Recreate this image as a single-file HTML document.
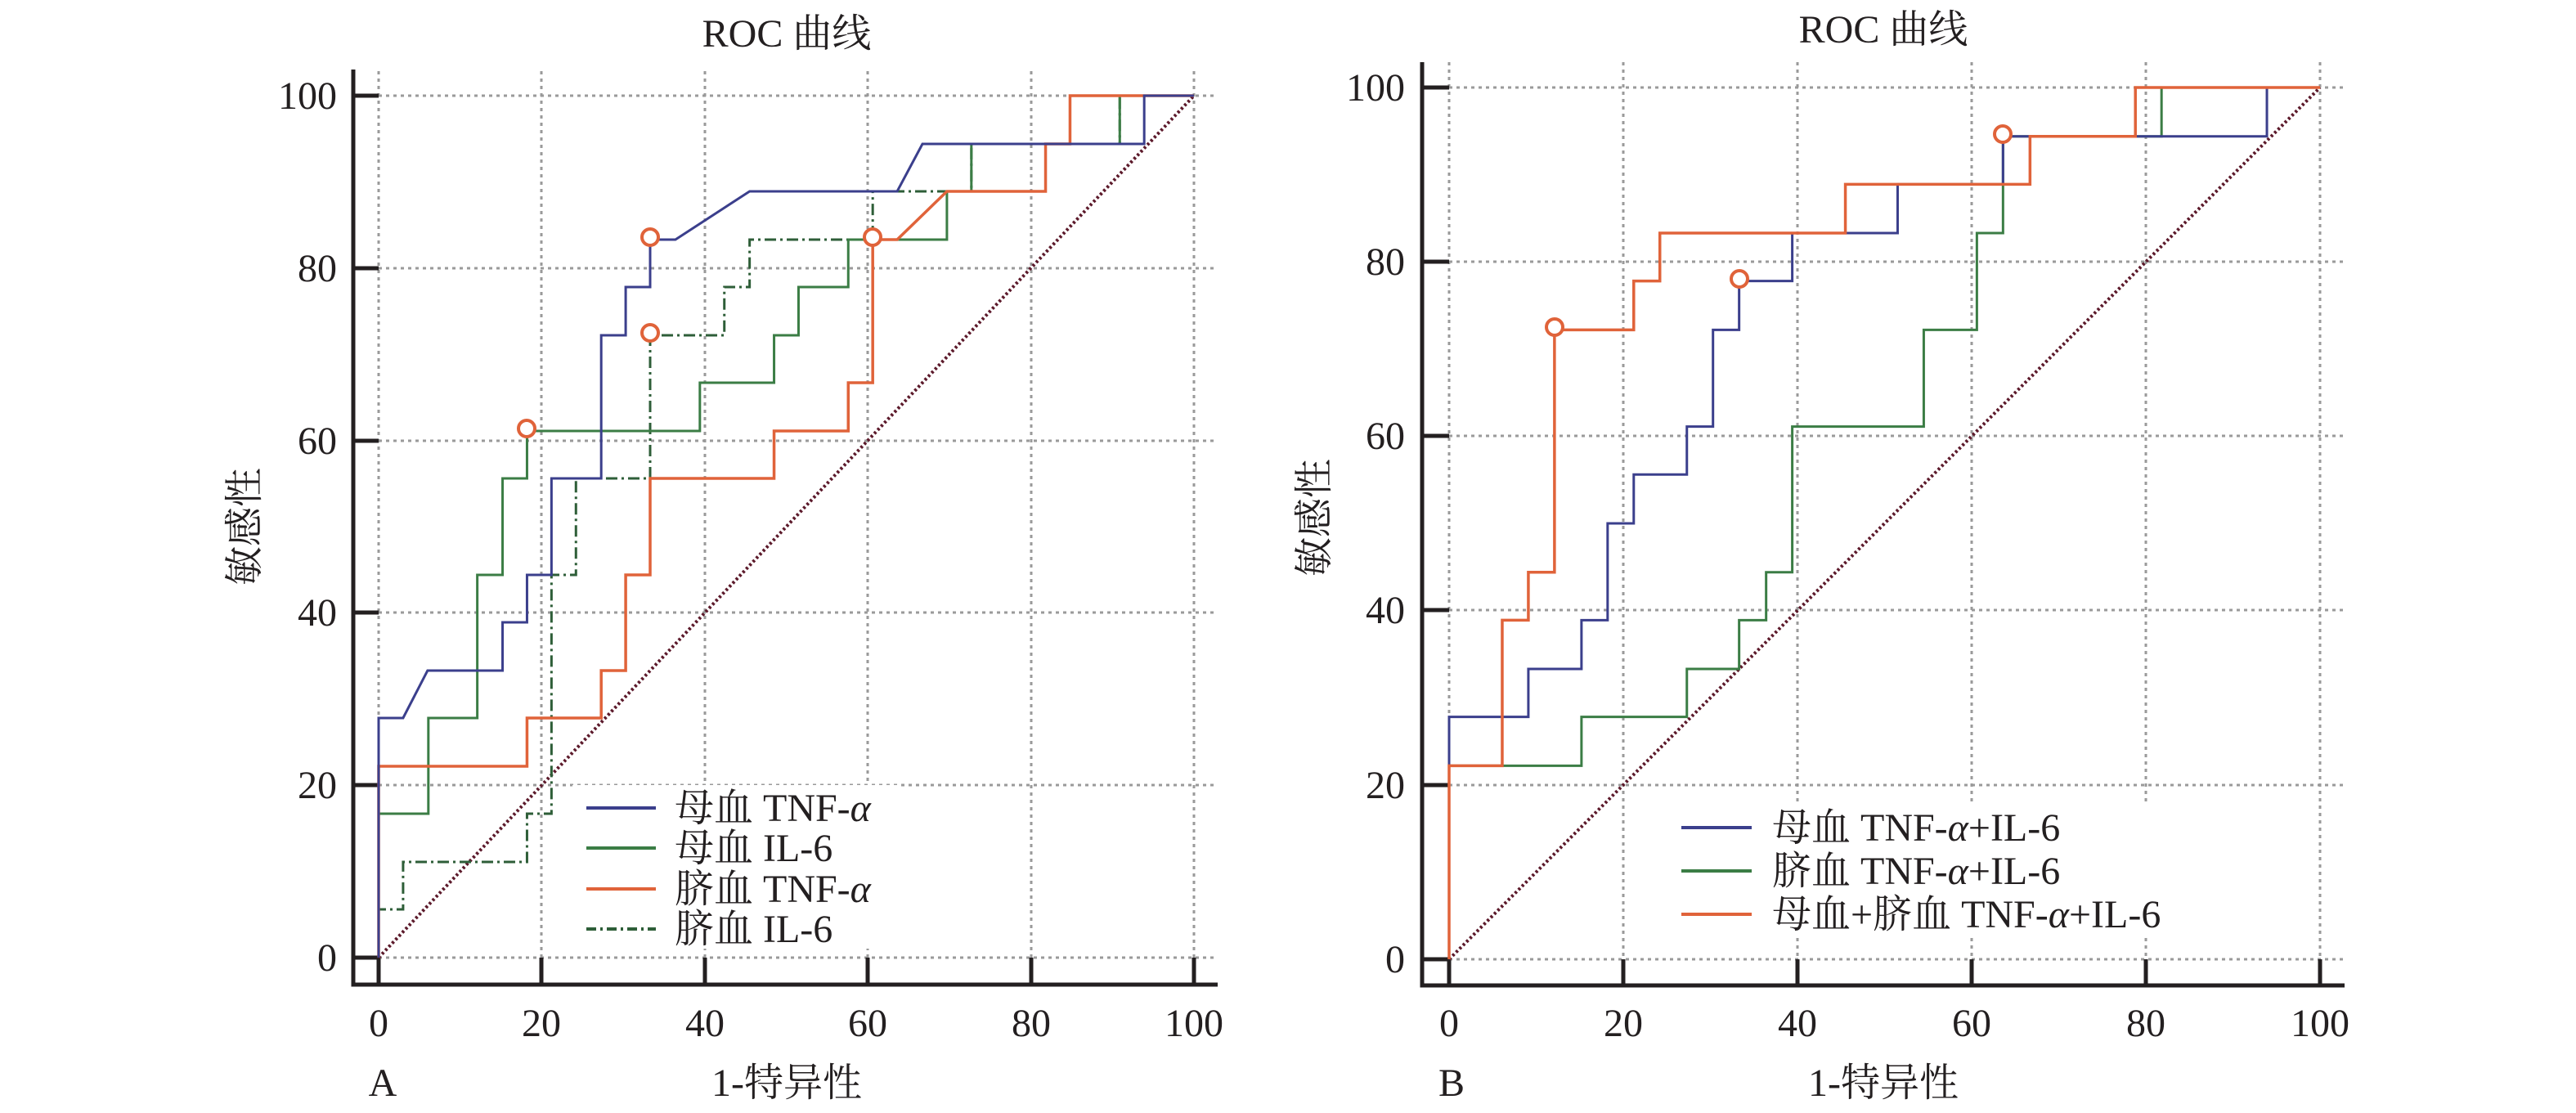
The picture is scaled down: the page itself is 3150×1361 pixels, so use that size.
<!DOCTYPE html>
<html><head><meta charset="utf-8"><style>
html,body{margin:0;padding:0;background:#fff;}
svg{display:block;}
text{font-family:"Liberation Serif","Noto Serif CJK SC",serif;fill:#231f20;}
</style></head><body>
<svg width="3150" height="1361" viewBox="0 0 3150 1361" xmlns="http://www.w3.org/2000/svg">
<!-- ============ Chart A ============ -->
<g stroke="#9a9a9a" stroke-width="3" stroke-dasharray="4,5" fill="none">
  <path d="M463 87V1171M662 87V1171M862 87V1171M1061 87V1171M1261 87V1171M1460 87V1171"/>
  <path d="M463 117H1489M463 328H1489M463 539H1489M463 749H1489M463 960H1489M463 1171H1489"/>
</g>
<rect x="700" y="960" width="400" height="200" fill="#fff"/>
<g stroke="#231f20" stroke-width="5" fill="none">
  <path d="M432 85V1204H1489"/>
  <path d="M432 117H463M432 328H463M432 539H463M432 749H463M432 960H463M432 1171H463"/>
  <path d="M463 1204V1171M662 1204V1171M862 1204V1171M1061 1204V1171M1261 1204V1171M1460 1204V1171"/>
</g>
<g transform="translate(463,1171) scale(9.97,-10.54)" fill="none">
  <path d="M0 0L100 100" stroke="#5c1a2b" stroke-width="4" stroke-dasharray="3,3" vector-effect="non-scaling-stroke"/>
  <polyline vector-effect="non-scaling-stroke" stroke="#2e5e38" stroke-width="3" stroke-dasharray="14,5,3,5" points="0,0 0,5.6 3,5.6 3,11.1 18.2,11.1 18.2,16.7 21.2,16.7 21.2,44.4 24.2,44.4 24.2,55.6 33.3,55.6 33.3,72.2 42.4,72.2 42.4,77.8 45.5,77.8 45.5,83.3 60.6,83.3 60.6,88.9 72.7,88.9 72.7,94.4 90.9,94.4 90.9,100 100,100"/>
  <polyline vector-effect="non-scaling-stroke" stroke="#3b7d45" stroke-width="3" points="0,0 0,16.7 6.1,16.7 6.1,27.8 12.1,27.8 12.1,44.4 15.2,44.4 15.2,55.6 18.2,55.6 18.2,61.1 39.4,61.1 39.4,66.7 48.5,66.7 48.5,72.2 51.5,72.2 51.5,77.8 57.6,77.8 57.6,83.3 69.7,83.3 69.7,88.9 72.7,88.9 72.7,94.4 90.9,94.4 90.9,100 100,100"/>
  <polyline vector-effect="non-scaling-stroke" stroke="#e0633a" stroke-width="3.5" points="0,0 0,22.2 18.2,22.2 18.2,27.8 27.3,27.8 27.3,33.3 30.3,33.3 30.3,44.4 33.3,44.4 33.3,55.6 48.5,55.6 48.5,61.1 57.6,61.1 57.6,66.7 60.6,66.7 60.6,83.3 63.6,83.3 69.7,88.9 81.8,88.9 81.8,94.4 84.8,94.4 84.8,100 100,100"/>
  <polyline vector-effect="non-scaling-stroke" stroke="#3b3f8c" stroke-width="3" points="0,0 0,27.8 3,27.8 6,33.3 15.2,33.3 15.2,38.9 18.2,38.9 18.2,44.4 21.2,44.4 21.2,55.6 27.3,55.6 27.3,72.2 30.3,72.2 30.3,77.8 33.3,77.8 33.3,83.3 36.4,83.3 45.5,88.9 63.6,88.9 66.7,94.4 93.9,94.4 93.9,100 100,100"/>
</g>
<g fill="#fff" stroke="#e0633a" stroke-width="4">
  <circle cx="795" cy="290" r="10"/><circle cx="795" cy="407" r="10"/><circle cx="644" cy="524" r="10"/><circle cx="1067" cy="290" r="10"/>
</g>
<g stroke-width="4" fill="none">
  <path d="M717 988H802" stroke="#3b3f8c"/>
  <path d="M717 1037H802" stroke="#3b7d45"/>
  <path d="M717 1087H802" stroke="#e0633a"/>
  <path d="M717 1136H802" stroke="#2e5e38" stroke-dasharray="12,5,3,5"/>
</g>
<g font-size="48">
  <text x="825" y="1004">母血 TNF-<tspan font-style="italic">α</tspan></text>
  <text x="825" y="1053">母血 IL-6</text>
  <text x="825" y="1103">脐血 TNF-<tspan font-style="italic">α</tspan></text>
  <text x="825" y="1152">脐血 IL-6</text>
</g>
<g font-size="48" text-anchor="end">
  <text x="412" y="133">100</text><text x="412" y="344">80</text><text x="412" y="555">60</text>
  <text x="412" y="765">40</text><text x="412" y="976">20</text><text x="412" y="1187">0</text>
</g>
<g font-size="48" text-anchor="middle">
  <text x="463" y="1267">0</text><text x="662" y="1267">20</text><text x="862" y="1267">40</text>
  <text x="1061" y="1267">60</text><text x="1261" y="1267">80</text><text x="1460" y="1267">100</text>
  <text x="962" y="57">ROC 曲线</text>
  <text x="962" y="1340">1-特异性</text>
  <text x="468" y="1340">A</text>
  <text transform="translate(315,644) rotate(-90)">敏感性</text>
</g>

<!-- ============ Chart B ============ -->
<g stroke="#9a9a9a" stroke-width="3" stroke-dasharray="4,5" fill="none">
  <path d="M1772 76V1173M1985 76V1173M2198 76V1173M2411 76V1173M2624 76V1173M2837 76V1173"/>
  <path d="M1772 107H2867M1772 320H2867M1772 533H2867M1772 746H2867M1772 960H2867M1772 1173H2867"/>
</g>
<rect x="2045" y="982" width="620" height="160" fill="#fff"/>
<g stroke="#231f20" stroke-width="5" fill="none">
  <path d="M1739 76V1205H2867"/>
  <path d="M1739 107H1772M1739 320H1772M1739 533H1772M1739 746H1772M1739 960H1772M1739 1173H1772"/>
  <path d="M1772 1205V1173M1985 1205V1173M2198 1205V1173M2411 1205V1173M2624 1205V1173M2837 1205V1173"/>
</g>
<g transform="translate(1772,1173) scale(10.65,-10.66)" fill="none">
  <path d="M0 0L100 100" stroke="#5c1a2b" stroke-width="4" stroke-dasharray="3,3" vector-effect="non-scaling-stroke"/>
  <polyline vector-effect="non-scaling-stroke" stroke="#3b7d45" stroke-width="3" points="0,0 0,22.2 15.2,22.2 15.2,27.8 27.3,27.8 27.3,33.3 33.3,33.3 33.3,38.9 36.4,38.9 36.4,44.4 39.4,44.4 39.4,61.1 54.5,61.1 54.5,72.2 60.6,72.2 60.6,83.3 63.6,83.3 63.6,94.4 81.8,94.4 81.8,100 100,100"/>
  <polyline vector-effect="non-scaling-stroke" stroke="#3b3f8c" stroke-width="3" points="0,0 0,27.8 9.1,27.8 9.1,33.3 15.2,33.3 15.2,38.9 18.2,38.9 18.2,50 21.2,50 21.2,55.6 27.3,55.6 27.3,61.1 30.3,61.1 30.3,72.2 33.3,72.2 33.3,77.8 39.4,77.8 39.4,83.3 51.5,83.3 51.5,88.9 63.6,88.9 63.6,94.4 93.9,94.4 93.9,100 100,100"/>
  <polyline vector-effect="non-scaling-stroke" stroke="#e0633a" stroke-width="3.5" points="0,0 0,22.2 6.1,22.2 6.1,38.9 9.1,38.9 9.1,44.4 12.1,44.4 12.1,72.2 21.2,72.2 21.2,77.8 24.2,77.8 24.2,83.3 45.5,83.3 45.5,88.9 66.7,88.9 66.7,94.4 78.8,94.4 78.8,100 100,100"/>
</g>
<g fill="#fff" stroke="#e0633a" stroke-width="4">
  <circle cx="1901" cy="400" r="10"/><circle cx="2127" cy="341" r="10"/><circle cx="2449" cy="164" r="10"/>
</g>
<g stroke-width="4" fill="none">
  <path d="M2056 1012H2142" stroke="#3b3f8c"/>
  <path d="M2056 1065H2142" stroke="#3b7d45"/>
  <path d="M2056 1118H2142" stroke="#e0633a"/>
</g>
<g font-size="48">
  <text x="2167" y="1028">母血 TNF-<tspan font-style="italic">α</tspan>+IL-6</text>
  <text x="2167" y="1081">脐血 TNF-<tspan font-style="italic">α</tspan>+IL-6</text>
  <text x="2167" y="1134">母血+脐血 TNF-<tspan font-style="italic">α</tspan>+IL-6</text>
</g>
<g font-size="48" text-anchor="end">
  <text x="1718" y="123">100</text><text x="1718" y="336">80</text><text x="1718" y="549">60</text>
  <text x="1718" y="762">40</text><text x="1718" y="976">20</text><text x="1718" y="1189">0</text>
</g>
<g font-size="48" text-anchor="middle">
  <text x="1772" y="1267">0</text><text x="1985" y="1267">20</text><text x="2198" y="1267">40</text>
  <text x="2411" y="1267">60</text><text x="2624" y="1267">80</text><text x="2837" y="1267">100</text>
  <text x="2303" y="52">ROC 曲线</text>
  <text x="2303" y="1340">1-特异性</text>
  <text x="1775" y="1340">B</text>
  <text transform="translate(1623,633) rotate(-90)">敏感性</text>
</g>
</svg>
</body></html>
